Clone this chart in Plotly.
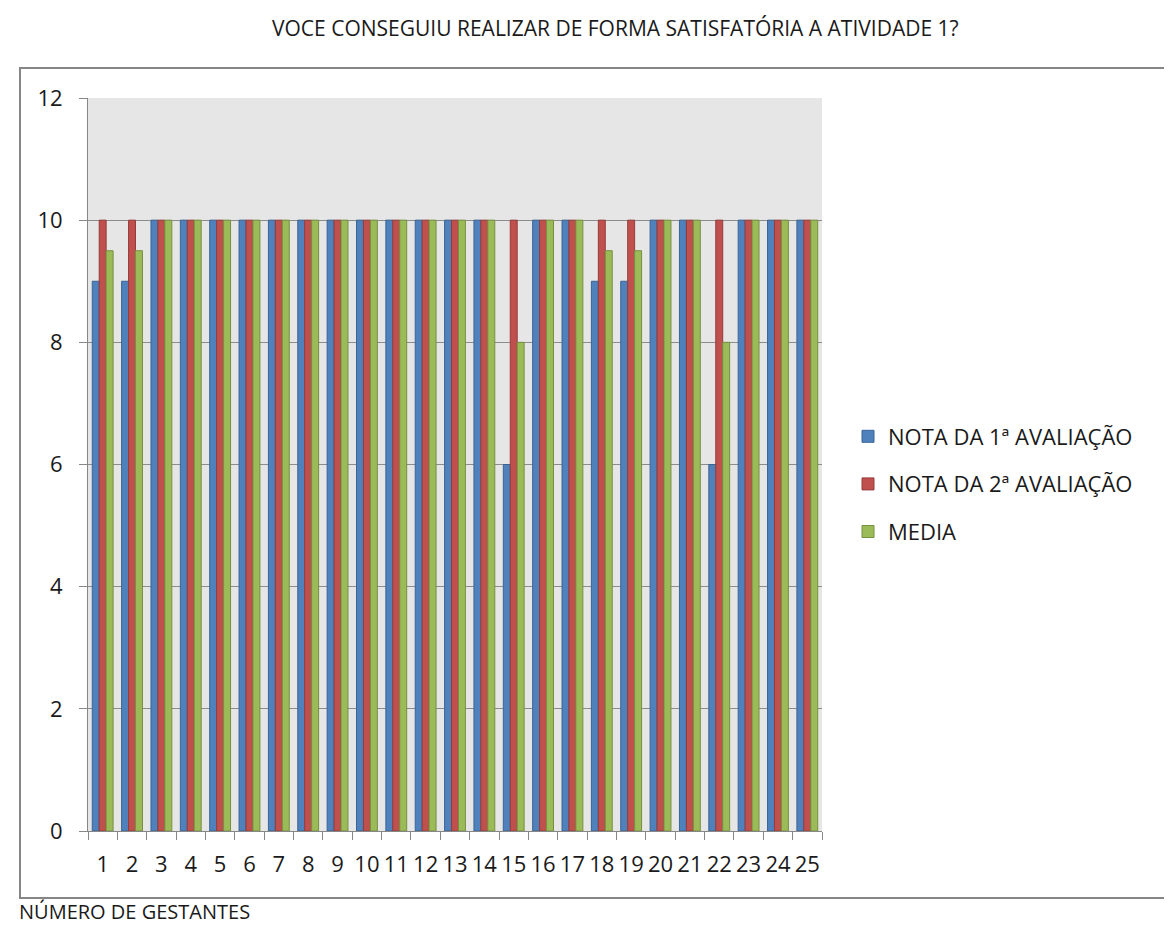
import plotly.graph_objects as go

categories = [str(i) for i in range(1, 26)]
nota1 = [9, 9, 10, 10, 10, 10, 10, 10, 10, 10, 10, 10, 10, 10, 6, 10, 10, 9, 9, 10, 10, 6, 10, 10, 10]
nota2 = [10] * 25
media = [9.5, 9.5, 10, 10, 10, 10, 10, 10, 10, 10, 10, 10, 10, 10, 8, 10, 10, 9.5, 9.5, 10, 10, 8, 10, 10, 10]

series = [
    ("NOTA DA 1ª AVALIAÇÃO", nota1, "#4F81BD", "#3A6494"),
    ("NOTA DA 2ª AVALIAÇÃO", nota2, "#C0504D", "#943C3A"),
    ("MEDIA", media, "#9BBB59", "#76903F"),
]

W, H = 1172, 926
L, R, T, B = 80, 814, 90, 823
pw, ph = R - L, B - T

def px(x):
    return (x - L) / pw

def py(y):
    return (B - y) / ph

fig = go.Figure()
for i, (name, vals, col, lcol) in enumerate(series):
    fig.add_trace(go.Bar(
        x=categories, y=vals, name=name,
        marker=dict(color=col, line=dict(color=lcol, width=1)),
        legendgroup=str(i),
    ))

font = "Open Sans, Liberation Sans, sans-serif"
fig.update_layout(
    width=W, height=H,
    margin=dict(l=L, r=W - R, t=T, b=H - B),
    paper_bgcolor="white",
    plot_bgcolor="#e6e6e6",
    barmode="group",
    bargap=0.29,
    bargroupgap=0,
    font=dict(family=font, color="#1a1a1a", size=22),
    showlegend=True,
    legend=dict(
        x=px(840), xanchor="left", y=py(476), yanchor="middle",
        font=dict(size=22, family=font, color="#1a1a1a"),
        traceorder="grouped", tracegroupgap=16,
        bgcolor="rgba(0,0,0,0)",
    ),
    xaxis=dict(
        type="category",
        showgrid=False,
        showline=True, linecolor="#878787", linewidth=1,
        ticks="outside", tickson="boundaries", ticklen=8, tickcolor="#878787",
        tickangle=0, ticklabelstandoff=14,
        tickfont=dict(size=22, family=font, color="#1a1a1a"),
        mirror=False,
    ),
    yaxis=dict(
        range=[0, 12], dtick=2, tick0=0,
        showgrid=True, gridcolor="#8c8c8c", gridwidth=1,
        showline=True, linecolor="#878787", linewidth=1,
        ticks="outside", ticklen=8, tickcolor="#878787",
        ticklabelstandoff=12,
        tickfont=dict(size=22, family=font, color="#1a1a1a"),
        zeroline=False,
    ),
    shapes=[dict(
        type="rect", xref="paper", yref="paper",
        x0=px(12), x1=px(1167), y0=py(890), y1=py(60),
        line=dict(color="#868686", width=2), fillcolor="rgba(0,0,0,0)",
        layer="below",
    )],
    annotations=[
        dict(text="VOCE CONSEGUIU REALIZAR DE FORMA SATISFATÓRIA A ATIVIDADE 1?",
             xref="paper", yref="paper", x=px(607), y=py(20),
             xanchor="center", yanchor="middle", showarrow=False,
             font=dict(size=21, family=font, color="#1a1a1a")),
        dict(text="NÚMERO DE GESTANTES",
             xref="paper", yref="paper", x=px(9), y=py(903),
             xanchor="left", yanchor="middle", showarrow=False,
             font=dict(size=20, family=font, color="#1a1a1a")),
    ],
)

fig.write_html("out.html")
